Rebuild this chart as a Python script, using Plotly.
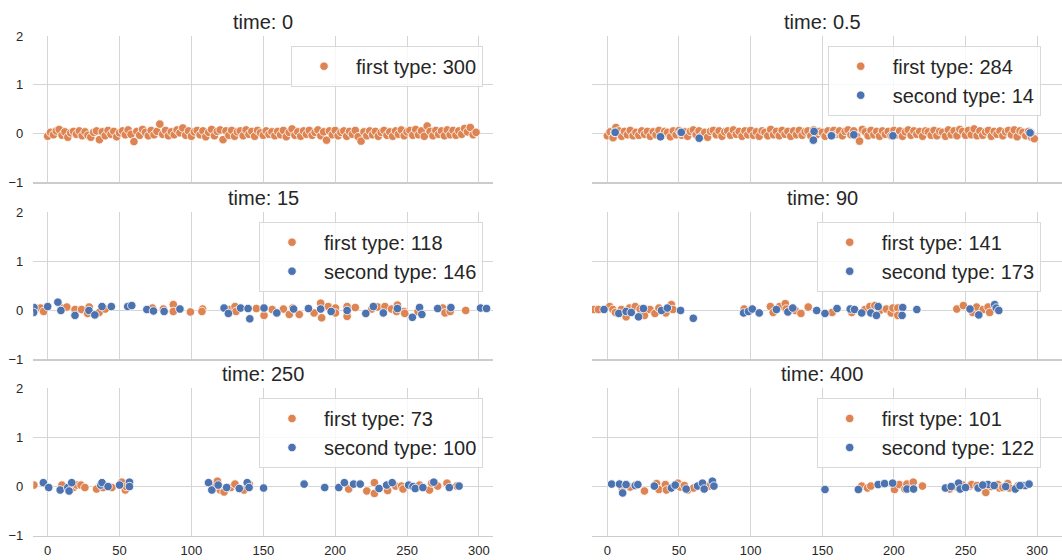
import plotly.graph_objects as go

# ---------------- data ----------------
panel_titles = ["time: 0", "time: 0.5", "time: 15", "time: 90", "time: 250", "time: 400"]
first_counts = [300, 284, 118, 141, 73, 101]
second_counts = [None, 14, 146, 173, 100, 122]

x_ticks = [0, 50, 100, 150, 200, 250, 300]
y_ticks = [-1, 0, 1, 2]

dense_x = [0, 2, 4, 6, 8, 10, 12, 14, 16, 18, 20, 22, 24, 26, 28, 30, 32, 34, 36, 38,
           40, 42, 44, 46, 48, 50, 52, 54, 56, 58, 60, 62, 64, 66, 68, 70, 72, 74, 76, 78,
           80, 82, 84, 86, 88, 90, 92, 94, 96, 98, 100, 102, 104, 106, 108, 110, 112, 114, 116, 118,
           120, 122, 124, 126, 128, 130, 132, 134, 136, 138, 140, 142, 144, 146, 148, 150, 152, 154, 156, 158,
           160, 162, 164, 166, 168, 170, 172, 174, 176, 178, 180, 182, 184, 186, 188, 190, 192, 194, 196, 198,
           200, 202, 204, 206, 208, 210, 212, 214, 216, 218, 220, 222, 224, 226, 228, 230, 232, 234, 236, 238,
           240, 242, 244, 246, 248, 250, 252, 254, 256, 258, 260, 262, 264, 266, 268, 270, 272, 274, 276, 278,
           280, 282, 284, 286, 288, 290, 292, 294, 296, 298]

t0_first_y = [-0.06, 0.02, -0.03, 0.05, 0.08, -0.04, 0.03, -0.08, 0.01, 0.04,
              -0.02, 0.05, -0.05, 0.03, -0.04, -0.08, 0.02, 0.05, -0.13, 0.03,
              -0.05, 0.06, -0.02, 0.04, -0.07, 0.01, 0.05, -0.03, 0.07, -0.02,
              -0.17, 0.04, -0.04, 0.08, 0.02, -0.05, 0.06, -0.03, 0.04, 0.19,
              -0.02, 0.06, -0.05, 0.03, -0.03, 0.07, 0.01, 0.11, -0.04, 0.05,
              -0.06, 0.03, 0.06, -0.03, 0.05, -0.07, 0.02, 0.08, -0.05, 0.04,
              0.07, -0.13, 0.05, -0.04, 0.06, -0.06, 0.03, 0.05, -0.05, 0.07,
              -0.02, 0.04, -0.06, 0.06, 0.01, -0.04, 0.05, -0.02, 0.03, -0.05,
              0.04, -0.03, 0.06, -0.07, 0.02, 0.09, -0.04, 0.03, -0.06, 0.05,
              -0.02, 0.06, -0.04, 0.02, 0.07, -0.05, 0.03, -0.14, 0.05, -0.03,
              0.06, -0.05, 0.02, 0.05, -0.06, 0.04, -0.02, 0.06, -0.07, -0.16,
              0.03, -0.05, 0.05, -0.03, 0.04, -0.06, 0.02, 0.06, -0.04, 0.03,
              -0.06, 0.05, -0.02, 0.07, -0.05, 0.03, 0.06, -0.04, 0.08, -0.03,
              0.05, -0.06, 0.15, 0.04, -0.05, 0.06, -0.02, 0.05, -0.05, 0.07,
              -0.03, 0.06, -0.04, 0.05, -0.02, 0.10, 0.03, 0.12, -0.03, 0.02]

t05_first_y = [-0.05, 0.03, -0.09, 0.12, 0.05, -0.06, 0.04, -0.03, 0.06, -0.05,
               0.02, -0.04, 0.05, -0.02, 0.04, -0.06, 0.03, -0.03, 0.06, -0.05,
               0.04, 0.02, -0.07, 0.05, -0.03, 0.06, -0.04, 0.03, -0.06, 0.04,
               0.07, -0.03, 0.05, -0.05, 0.02, -0.08, 0.04, 0.06, -0.03, 0.05,
               -0.06, 0.03, 0.05, -0.04, 0.07, -0.02, 0.04, -0.06, 0.05, -0.03,
               0.06, -0.04, 0.03, -0.06, 0.05, 0.02, -0.05, 0.08, -0.03, 0.04,
               -0.05, 0.06, -0.02, 0.04, -0.06, 0.05, -0.03, 0.06, -0.04, 0.03,
               0.05, -0.05, 0.07, -0.03, 0.04, 0.02, -0.06, 0.05, -0.04, 0.06,
               -0.02, 0.05, -0.05, 0.04, 0.07, -0.03, 0.05, -0.06, -0.16, 0.08,
               0.03, -0.05, 0.06, -0.03, 0.04, -0.06, 0.05, -0.02, 0.04, -0.05,
               0.06, -0.03, 0.05, -0.06, 0.03, 0.07, -0.04, 0.05, -0.02, 0.04,
               -0.06, 0.05, 0.03, -0.04, 0.06, -0.05, 0.04, 0.02, -0.06, 0.07,
               -0.03, 0.05, -0.05, 0.08, 0.04, -0.04, 0.06, -0.03, 0.09, -0.05,
               0.05, -0.04, 0.03, 0.06, -0.06, 0.04, -0.02, 0.05, -0.05, 0.03,
               0.06, -0.03, 0.07, -0.07, 0.05, 0.02, -0.05, 0.04, -0.08, -0.11]
t05_second_x = [5.0, 37.1, 51.1, 64.1, 144.3, 143.8, 156.9, 172.0, 199.3, 295.5, 5.5, 51.6, 156.4, 295.0]
t05_second_y = [0.02, -0.07, 0.02, -0.10, 0.04, -0.14, -0.05, -0.03, -0.05, 0.01, 0.02, 0.02, -0.05, 0.01]

t15_first_x = [-8, -5, -2.8, 9.9, 13.3, 19.0, 23.6, 28.9, 27.8, 35.8, 40.1, 72.9, 80.5, 87.4, 87.4,
               99.3, 107.8, 107.3, 126.4, 130.3, 131.0, 145.2, 150.5, 156.2, 164.0, 168.1, 170.4, 175.0,
               185.3, 189.9, 190.6, 195.2, 200.2, 200.2, 208.3, 208.3, 214.0, 225.5, 229.6, 234.6,
               239.2, 243.3, 242.7, 247.9, 248.4, 257.6, 274.8, 276.4, 280.0, 290.8]
t15_first_y = [0.02, 0.04, -0.03, 0.04, 0.06, 0.01, 0.01, 0.06, -0.07, -0.05, 0.02, 0.04, 0.02, 0.11, -0.03,
               -0.04, 0.02, -0.03, 0.01, 0.07, -0.03, 0.03, -0.11, 0.01, 0.02, -0.09, 0.04, -0.09,
               -0.06, 0.14, -0.16, 0.07, 0.04, -0.06, 0.07, -0.13, 0.05, 0.02, 0.06, 0.07,
               0.02, 0.10, -0.03, -0.03, -0.07, -0.03, 0.04, -0.06, -0.03, -0.01]
t15_second_x = [-9.5, -9.8, 0, 7.1, 9.2, 19.0, 28.7, 32.8, 37.8, 44.3, 55.7, 58.5, 69.0, 73.6, 81.0,
                92.0, 122.7, 125.7, 134.2, 139.4, 140.6, 150.5, 159.4, 171.1, 181.4, 189.9, 197.2,
                208.3, 221.3, 226.6, 233.5, 243.3, 253.7, 258.7, 260.3, 271.3, 280.5, 301.1, 305.3]
t15_second_y = [0.05, -0.05, 0.07, 0.16, -0.01, -0.11, -0.01, -0.10, 0.07, 0.07, 0.07, 0.09, 0.01, -0.02, -0.03,
                0.02, 0.04, -0.07, 0.04, 0.03, -0.18, 0.04, -0.06, 0.02, 0.03, 0.02, -0.03,
                -0.01, -0.07, 0.07, -0.06, 0.03, -0.15, 0.05, -0.09, 0.03, 0.05, 0.04, 0.03]

t90_first_x = [-9.2, -6.2, 1.6, 3.9, 5.7, 9.8, 13.1, 15.4, 19.5, 22.9, 25.9, 29.8, 33.2, 36.0, 40.8,
               44.7, 45.8, 95.5, 113.8, 115.7, 120.2, 124.2, 124.8, 131.2, 135.1, 140.2, 156.9, 170.6,
               179.8, 183.2, 186.7, 190.1, 194.7, 198.1, 199.3, 202.7, 202.7, 243.9, 248.5, 254.9,
               257.7, 262.3, 265.7, 266.8]
t90_first_y = [0.01, 0.01, 0.07, 0.01, -0.05, 0.01, -0.14, 0.04, 0.07, 0.02, -0.11, 0.01, -0.07, 0.04, -0.06,
               0.11, 0.01, 0.02, 0.07, -0.05, 0.07, 0.13, 0.02, -0.01, -0.07, 0.06, -0.05, -0.05,
               0.01, 0.07, 0.09, -0.01, 0.02, -0.06, 0.04, 0.04, -0.11, 0.02, 0.09, -0.05,
               0.06, 0.01, 0.06, -0.05]
t90_second_x = [-2.3, 8.0, 13.1, 16.7, 21.8, 25.2, 37.8, 41.9, 51.1, 60.0, 95.1, 98.5, 101.2, 106.0, 118.0,
                126.0, 129.4, 146.1, 151.9, 160.3, 169.5, 172.5, 177.5, 183.9, 189.0, 187.8, 206.1, 205.7,
                216.0, 253.1, 259.2, 270.3, 271.4, 273.2]
t90_second_y = [0.01, -0.07, -0.03, -0.05, -0.14, 0.03, -0.01, 0.04, -0.01, -0.17, -0.06, -0.03, 0.02, -0.06, 0.01,
                -0.04, 0.04, -0.01, -0.07, 0.03, 0.02, 0.01, -0.06, -0.06, 0.07, -0.11, 0.05, -0.11,
                0.01, 0.02, -0.10, 0.11, 0.04, -0.01]

t250_first_x = [-9.6, 9.9, 17.9, 20.2, 23.2, 25.9, 34.0, 38.5, 44.7, 51.6, 54.0, 54.6, 114.9, 118.1, 120.0,
                122.7, 127.3, 130.3, 136.5, 140.1, 209.4, 222.0, 227.3, 227.3, 236.5, 242.0, 246.1, 247.2,
                258.7, 265.6, 267.2, 271.3, 277.8, 284.6]
t250_first_y = [0.03, 0.03, -0.02, 0.03, 0.03, -0.02, -0.05, -0.02, -0.02, 0.09, -0.07, 0.00, 0.03, 0.11, -0.07,
                -0.11, -0.02, 0.05, -0.07, 0.05, -0.05, -0.09, 0.08, -0.14, -0.08, 0.01, 0.01, -0.05,
                0.03, -0.07, 0.07, 0.01, 0.07, 0.01]
t250_second_x = [-3.0, 0.7, 8.7, 14.0, 14.9, 16.7, 36.9, 37.8, 42.0, 50.0, 56.9, 56.9, 111.9, 114.2, 118.6,
                 124.5, 133.3, 138.8, 140.1, 150.2, 178.4, 192.7, 202.5, 206.4, 212.8, 217.4, 230.5, 235.8,
                 239.7, 251.1, 254.1, 255.7, 261.0, 268.6, 279.4, 286.2]
t250_second_y = [0.08, -0.02, -0.07, -0.02, -0.09, 0.08, 0.03, 0.08, 0.00, 0.03, 0.09, 0.00, 0.08, -0.07, 0.03,
                 -0.02, -0.04, 0.08, -0.02, -0.03, 0.05, -0.02, -0.02, 0.08, 0.05, 0.05, -0.04, 0.03,
                 0.08, 0.03, 0.00, -0.04, -0.02, 0.09, -0.02, 0.01]

t400_first_x = [10.3, 16.0, 25.9, 34.4, 36.0, 40.5, 41.2, 49.2, 50.8, 53.8, 56.1, 60.2, 71.0, 177.5, 181.6,
                183.9, 200.4, 203.8, 207.7, 209.1, 213.5, 219.9, 238.9, 253.1, 254.2, 264.1, 272.6, 273.7,
                279.4, 280.6, 286.3, 243.0, 248.0, 258.0, 268.0, 276.0, 290.0]
t400_first_y = [-0.03, -0.01, -0.09, 0.06, -0.06, 0.04, -0.07, 0.07, -0.01, 0.02, -0.07, -0.03, 0.01, 0.01, -0.03,
                0.01, -0.06, 0.04, -0.05, 0.05, 0.09, 0.01, -0.05, 0.01, 0.04, -0.12, 0.04, -0.03,
                0.06, -0.03, 0.01, 0.00, 0.03, 0.02, 0.00, -0.02, 0.02]
t400_second_x = [3.0, 8.5, 10.7, 13.1, 19.5, 21.3, 32.8, 44.7, 47.4, 55.0, 63.0, 66.4, 67.6, 73.3, 74.4,
                 151.9, 175.2, 189.0, 193.5, 199.1, 209.1, 213.7, 235.9, 245.1, 246.2, 258.8, 265.7, 284.7,
                 291.6, 294.3, 240.0, 250.0, 262.0, 270.0, 278.0, 288.0]
t400_second_y = [0.05, 0.05, -0.13, 0.04, 0.02, 0.04, 0.01, -0.03, 0.03, -0.05, 0.01, 0.07, -0.05, 0.11, 0.01,
                 -0.06, -0.06, 0.04, 0.06, 0.07, -0.05, -0.05, -0.03, 0.07, -0.05, -0.03, 0.04, -0.05,
                 0.02, 0.05, 0.00, -0.02, 0.03, 0.02, 0.00, 0.02]

first_series = [(dense_x, t0_first_y), (dense_x, t05_first_y), (t15_first_x, t15_first_y),
                (t90_first_x, t90_first_y), (t250_first_x, t250_first_y), (t400_first_x, t400_first_y)]
second_series = [None, (t05_second_x, t05_second_y), (t15_second_x, t15_second_y),
                 (t90_second_x, t90_second_y), (t250_second_x, t250_second_y), (t400_second_x, t400_second_y)]

# ---------------- style / layout ----------------
W, H = 1062, 560
ORANGE = "#DD8452"
BLUE = "#4C72B0"
TEXT = "#262626"
GRID = "#d5d5d5"
FONT = "Liberation Sans, Arial, sans-serif"

col_px = [(33.3, 493.3), (592.0, 1062.0)]
col_range = [(-10, 310), (-10.7, 317.3)]
col_title_px = [263.3, 822.0]
col_legend_right_px = [483.0, 1040.7]
row_px = [(36.0, 182.0), (212.0, 359.0), (388.3, 535.7)]
row_title_px = [22.3, 198.3, 374.3]


def px_x(p):
    return p / W


def px_y(p):
    return 1 - p / H


fig = go.Figure()
layout = dict(
    template="none",
    width=W, height=H, autosize=False,
    margin=dict(l=0, r=0, t=0, b=0, pad=0, autoexpand=False),
    paper_bgcolor="white", plot_bgcolor="white",
    font=dict(family=FONT, color=TEXT),
    showlegend=True,
    annotations=[],
)

for k in range(6):
    r, c = divmod(k, 2)
    n = k + 1
    xa = "xaxis" if n == 1 else f"xaxis{n}"
    ya = "yaxis" if n == 1 else f"yaxis{n}"
    xr = "x" if n == 1 else f"x{n}"
    yr = "y" if n == 1 else f"y{n}"
    lg = "legend" if n == 1 else f"legend{n}"

    layout[xa] = dict(
        domain=[px_x(col_px[c][0]), px_x(col_px[c][1])], range=list(col_range[c]),
        anchor=yr, tickmode="array", tickvals=x_ticks, automargin=False,
        showticklabels=(r == 2), ticks="", ticklabelstandoff=2,
        tickfont=dict(size=13, color=TEXT),
        showgrid=True, gridcolor=GRID, gridwidth=1, zeroline=False,
        showline=True, linecolor="#cccccc", linewidth=1.5, mirror=False,
        fixedrange=True,
    )
    layout[ya] = dict(
        domain=[px_y(row_px[r][1]), px_y(row_px[r][0])], range=[-1, 2],
        anchor=xr, tickmode="array", tickvals=y_ticks, automargin=False,
        showticklabels=(c == 0), ticks="", ticklabelstandoff=9,
        tickfont=dict(size=13, color=TEXT),
        showgrid=True, gridcolor=GRID, gridwidth=1, zeroline=False,
        showline=False, fixedrange=True,
    )
    layout[lg] = dict(
        x=px_x(col_legend_right_px[c]), y=px_y(row_px[r][0] + 9.7),
        xref="paper", yref="paper", xanchor="right", yanchor="top",
        bgcolor="rgba(255,255,255,0.8)", bordercolor="#d9d9d9", borderwidth=1,
        font=dict(size=20, color=TEXT, family=FONT), itemwidth=54,
        tracegroupgap=0,
    )
    layout["annotations"].append(dict(
        text=panel_titles[k], x=px_x(col_title_px[c]), y=px_y(row_title_px[r]),
        xref="paper", yref="paper", xanchor="center", yanchor="middle",
        showarrow=False, font=dict(size=20, color=TEXT, family=FONT),
    ))

    fx, fy = first_series[k]
    fig.add_trace(go.Scatter(
        x=fx, y=fy, mode="markers", xaxis=xr, yaxis=yr, legend=lg,
        name=f"first type: {first_counts[k]}", cliponaxis=True, showlegend=True,
        marker=dict(color=ORANGE, size=8.5, line=dict(color="white", width=0.8)),
    ))
    if second_series[k] is not None:
        sx, sy = second_series[k]
        fig.add_trace(go.Scatter(
            x=sx, y=sy, mode="markers", xaxis=xr, yaxis=yr, legend=lg,
            name=f"second type: {second_counts[k]}", cliponaxis=True, showlegend=True,
            marker=dict(color=BLUE, size=8.5, line=dict(color="white", width=0.8)),
        ))

fig.update_layout(**layout)
fig.write_html(
    "out.html",
    config={"displayModeBar": False, "staticPlot": True},
    post_script="document.body.style.margin='0px';document.body.style.padding='0px';document.body.style.overflow='hidden';",
)
